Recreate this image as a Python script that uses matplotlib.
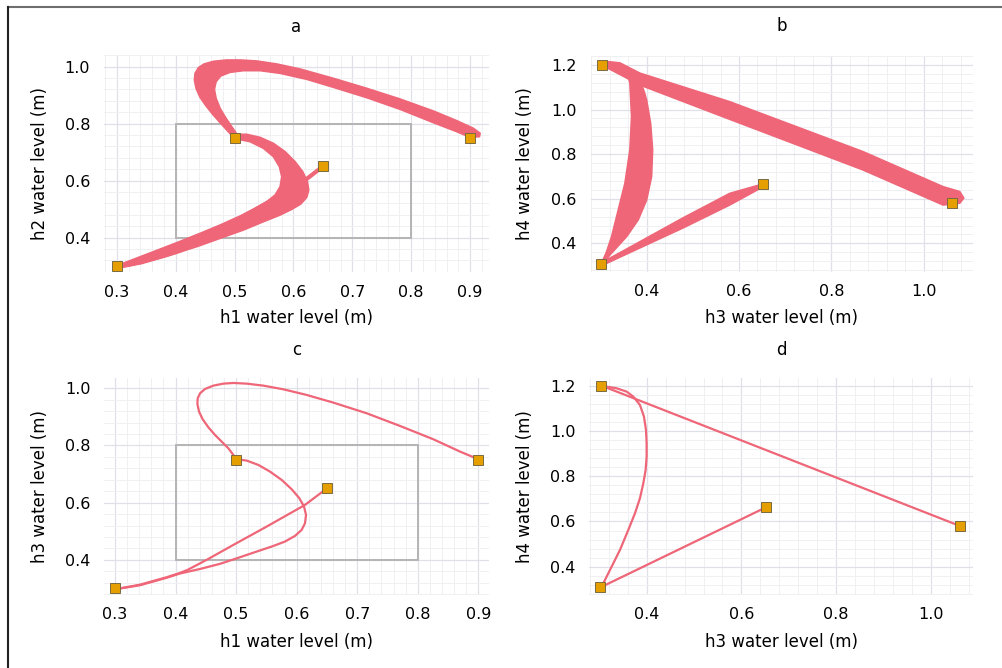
import numpy as np
import matplotlib
matplotlib.use('Agg')
import matplotlib.pyplot as plt
from matplotlib.ticker import MultipleLocator, FormatStrFormatter
from matplotlib.patches import Rectangle
from matplotlib.lines import Line2D

# ---- setpoints (orange squares) ----
sp_h1 = [0.3, 0.5, 0.65, 0.9]
sp_h2 = [0.3, 0.75, 0.65, 0.75]
sp_h3 = [0.304, 0.302, 0.652, 1.061]
sp_h4 = [1.2, 0.308, 0.664, 0.58]

# ---- nominal trajectory, h1 vs h3 (panel c) ----
c_top_h1 = [0.5, 0.4954, 0.4871, 0.4761, 0.4651, 0.4541, 0.4448, 0.4387, 0.4360, 0.4365, 0.4404, 0.4486,
            0.4624, 0.4789, 0.4954, 0.5174, 0.5449, 0.5780, 0.6165, 0.6605, 0.7156, 0.7706, 0.8256, 0.8697, 0.9]
c_top_h3 = [0.752, 0.7669, 0.7902, 0.8135, 0.8368, 0.8636, 0.8916, 0.9184, 0.9452, 0.9650, 0.9825, 0.9977,
            1.0093, 1.0163, 1.0186, 1.0163, 1.0093, 0.9965, 0.9767, 0.9499, 0.9126, 0.8683, 0.8217, 0.7786, 0.7517]
c_mid_h1 = [0.5, 0.5174, 0.5367, 0.5559, 0.5752, 0.5917, 0.6044, 0.6121, 0.6154, 0.6137, 0.6082, 0.5972,
            0.5807, 0.5587, 0.5339, 0.5064, 0.4734, 0.4404, 0.407, 0.385, 0.341, 0.3]
c_mid_h3 = [0.752, 0.7471, 0.7319, 0.7086, 0.6795, 0.6469, 0.6154, 0.5862, 0.5571, 0.5280, 0.5047, 0.4837,
            0.4639, 0.4464, 0.4289, 0.4091, 0.3860, 0.3680, 0.352, 0.337, 0.311, 0.297]
c_low_h1 = [0.6495, 0.6137, 0.5504, 0.4954, 0.4514, 0.42, 0.407, 0.385, 0.341, 0.3]
c_low_h3 = [0.6492, 0.5921, 0.5163, 0.4522, 0.4, 0.365, 0.354, 0.339, 0.313, 0.297]

# ---- nominal trajectory, h3 vs h4 (panel d) ----
d_bow_h3 = [0.3065, 0.3367, 0.3578, 0.3719, 0.3859, 0.3944, 0.3986, 0.4, 0.4, 0.3979, 0.3930, 0.3859,
            0.3754, 0.3613, 0.3437, 0.3262, 0.3086, 0.3015]
d_bow_h4 = [1.2, 1.1897, 1.175, 1.1528, 1.1159, 1.0642, 1.0052, 0.9461, 0.8871, 0.8281, 0.7690, 0.7026,
            0.6362, 0.5624, 0.4738, 0.4000, 0.3262, 0.307]
d_diag_h3 = [0.3065, 1.061]
d_diag_h4 = [1.2, 0.58]
d_low_h3 = [0.3015, 0.652]
d_low_h4 = [0.307, 0.663]

# ---- ensemble envelopes, panel a ----
a_up_outer_h1 = [0.4981, 0.4868, 0.4755, 0.4630, 0.4517, 0.4415, 0.4347, 0.4319, 0.4330, 0.4387, 0.4483,
                 0.4641, 0.4868, 0.5094, 0.5377, 0.5717, 0.6113, 0.6679, 0.7245, 0.7811, 0.8377, 0.8773,
                 0.9057, 0.9170, 0.9158]
a_up_outer_h2 = [0.7520, 0.7778, 0.8035, 0.8327, 0.8620, 0.8924, 0.9240, 0.9532, 0.9766, 0.9965, 1.0094,
                 1.0187, 1.0234, 1.0234, 1.0199, 1.0094, 0.9918, 0.9591, 0.9240, 0.8865, 0.8444, 0.8105,
                 0.7836, 0.7661, 0.7544]
a_up_inner_h1 = [0.5049, 0.4953, 0.4857, 0.4755, 0.4687, 0.4658, 0.4687, 0.4766, 0.4924, 0.5151, 0.5434,
                 0.5774, 0.6226, 0.6679, 0.7245, 0.7811, 0.8377, 0.8773, 0.9000]
a_up_inner_h2 = [0.7602, 0.7895, 0.8187, 0.8538, 0.8889, 0.9205, 0.9474, 0.9673, 0.9801, 0.9860, 0.9860,
                 0.9766, 0.9556, 0.9275, 0.8912, 0.8503, 0.8035, 0.7719, 0.7520]
a_lo_outer_h1 = [0.4998, 0.5208, 0.5434, 0.5660, 0.5858, 0.6028, 0.6158, 0.6238, 0.6260, 0.6226, 0.6124,
                 0.5972, 0.5774, 0.5491, 0.5151, 0.4755, 0.4358, 0.3962, 0.3566, 0.3226, 0.3028]
a_lo_outer_h2 = [0.7626, 0.7626, 0.7520, 0.7310, 0.7018, 0.6667, 0.6316, 0.5965, 0.5673, 0.5415, 0.5181,
                 0.4994, 0.4795, 0.4561, 0.4269, 0.3977, 0.3684, 0.3427, 0.3193, 0.3018, 0.2947]
a_lo_inner_h1 = [0.5066, 0.5264, 0.5491, 0.5660, 0.5762, 0.5802, 0.5774, 0.5689, 0.5547, 0.5349, 0.5094,
                 0.4755, 0.4415, 0.4019, 0.3623, 0.3283, 0.3028]
a_lo_inner_h2 = [0.7450, 0.7368, 0.7135, 0.6842, 0.6491, 0.6140, 0.5789, 0.5497, 0.5263, 0.5029, 0.4760,
                 0.4444, 0.4152, 0.3825, 0.3509, 0.3240, 0.3041]

# ---- ensemble envelopes, panel b ----
b_loop_outer_h3 = [0.3148, 0.3567, 0.3855, 0.400, 0.4087, 0.413, 0.4108, 0.400, 0.3818, 0.3567, 0.3206, 0.3061]
b_loop_outer_h4 = [1.215, 1.170, 1.118, 1.043, 0.938, 0.819, 0.699, 0.594, 0.505, 0.430, 0.348, 0.310]
b_loop_inner_h3 = [0.3148, 0.3567, 0.3639, 0.3675, 0.3639, 0.3531, 0.3386, 0.3243, 0.3098, 0.3026]
b_loop_inner_h4 = [1.187, 1.178, 1.118, 0.968, 0.819, 0.669, 0.549, 0.430, 0.340, 0.310]
b_diag_upper_h3 = [0.3148, 0.3422, 0.3855, 0.580, 0.8686, 1.0417, 1.0778, 1.0865]
b_diag_upper_h4 = [1.215, 1.209, 1.163, 1.035, 0.811, 0.654, 0.632, 0.603]
b_diag_lower_h3 = [0.3148, 0.3855, 0.580, 0.8686, 1.0417, 1.0778]
b_diag_lower_h4 = [1.187, 1.110, 0.956, 0.729, 0.572, 0.580]
b_low_upper_h3 = [0.3056, 0.4785, 0.580, 0.6516]
b_low_upper_h4 = [0.316, 0.5136, 0.624, 0.666]
b_low_lower_h3 = [0.3056, 0.4785, 0.580, 0.6516]
b_low_lower_h4 = [0.303, 0.4687, 0.572, 0.653]

# operating region box (h1/h2 plane)
box_lo = 0.4
box_hi = 0.8

LINE = '#EE6677'
MARK = '#E69F00'


def band(ax, x1, y1, x2, y2):
    xs = list(x1) + list(x2)[::-1]
    ys = list(y1) + list(y2)[::-1]
    ax.fill(xs, ys, color=LINE, lw=1.2, joinstyle='round', zorder=3)


def style(ax, title, xlabel, ylabel, xlim, ylim, xmaj, ymaj, xmin, ymin, tpos, xlpos, ylpos):
    ax.set_xlim(xlim)
    ax.set_ylim(ylim)
    ax.xaxis.set_major_locator(MultipleLocator(xmaj))
    ax.yaxis.set_major_locator(MultipleLocator(ymaj))
    ax.xaxis.set_minor_locator(MultipleLocator(xmin))
    ax.yaxis.set_minor_locator(MultipleLocator(ymin))
    ax.xaxis.set_major_formatter(FormatStrFormatter('%.1f'))
    ax.yaxis.set_major_formatter(FormatStrFormatter('%.1f'))
    ax.grid(which='major', color='#e0e0e8', lw=0.9, zorder=0)
    ax.grid(which='minor', color='#f0f0f3', lw=0.7, zorder=0)
    ax.set_axisbelow(True)
    for s in ax.spines.values():
        s.set_visible(False)
    ax.tick_params(which='both', length=0, labelsize=11.5)
    ax.tick_params(axis='x', pad=9)
    ax.tick_params(axis='y', pad=10)
    ax.set_title(title, y=tpos, va='center', fontsize=12, pad=0)
    ax.set_xlabel(xlabel, fontsize=12, va='center')
    ax.set_ylabel(ylabel, fontsize=12, va='center')
    ax.xaxis.set_label_coords(0.5, xlpos)
    ax.yaxis.set_label_coords(ylpos, 0.5)


fig = plt.figure(figsize=(10.02, 6.68), dpi=100)
ax_a = fig.add_axes([0.1038, 0.5928, 0.3842, 0.3249])
ax_b = fig.add_axes([0.5895, 0.5933, 0.3818, 0.3229])
ax_c = fig.add_axes([0.1041, 0.1093, 0.3842, 0.3244])
ax_d = fig.add_axes([0.5881, 0.1093, 0.3832, 0.3244])

# a / c: h1 against h2 / h3
for ax in (ax_a, ax_c):
    ax.add_patch(Rectangle((box_lo, box_lo), box_hi - box_lo, box_hi - box_lo,
                           fill=False, ec='#b4b4b4', lw=1.4, zorder=2))
for xs, ys in [(c_top_h1, c_top_h3), (c_mid_h1, c_mid_h3), (c_low_h1, c_low_h3)]:
    ax_c.plot(xs, ys, color=LINE, lw=1.6, solid_capstyle='round', solid_joinstyle='round', zorder=3)
# ensemble: only the leg from the 0.65 setpoint sits outside the bands
ax_a.plot(c_low_h1, c_low_h3, color=LINE, lw=3, solid_capstyle='round', solid_joinstyle='round', zorder=3)
band(ax_a, a_up_outer_h1, a_up_outer_h2, a_up_inner_h1, a_up_inner_h2)
band(ax_a, a_lo_outer_h1, a_lo_outer_h2, a_lo_inner_h1, a_lo_inner_h2)

# b / d: h3 against h4
for xs, ys in [(d_bow_h3, d_bow_h4), (d_diag_h3, d_diag_h4), (d_low_h3, d_low_h4)]:
    ax_b.plot(xs, ys, color=LINE, lw=3, solid_capstyle='round', solid_joinstyle='round', zorder=3)
    ax_d.plot(xs, ys, color=LINE, lw=1.6, solid_capstyle='round', solid_joinstyle='round', zorder=3)
band(ax_b, b_loop_outer_h3, b_loop_outer_h4, b_loop_inner_h3, b_loop_inner_h4)
band(ax_b, b_diag_upper_h3, b_diag_upper_h4, b_diag_lower_h3, b_diag_lower_h4)
band(ax_b, b_low_upper_h3, b_low_upper_h4, b_low_lower_h3, b_low_lower_h4)

for ax in (ax_a, ax_c):
    ax.plot(sp_h1, sp_h2, ls='none', marker='s', ms=7, mfc=MARK, mec='#7a6a40', mew=0.7, zorder=5)
for ax in (ax_b, ax_d):
    ax.plot(sp_h3, sp_h4, ls='none', marker='s', ms=7, mfc=MARK, mec='#7a6a40', mew=0.7, zorder=5)

style(ax_a, 'a', 'h1 water level (m)', 'h2 water level (m)', (0.2784, 0.932), (0.2796, 1.041),
      0.1, 0.2, 0.02, 0.04, 1.130, -0.212, -0.166)
style(ax_b, 'b', 'h3 water level (m)', 'h4 water level (m)', (0.279, 1.107), (0.273, 1.240),
      0.2, 0.2, 0.04, 0.04, 1.139, -0.216, -0.172)
style(ax_c, 'c', 'h1 water level (m)', 'h3 water level (m)', (0.2823, 0.918), (0.277, 1.035),
      0.1, 0.2, 0.02, 0.04, 1.131, -0.215, -0.167)
style(ax_d, 'd', 'h3 water level (m)', 'h4 water level (m)', (0.279, 1.089), (0.2745, 1.234),
      0.2, 0.2, 0.04, 0.04, 1.131, -0.215, -0.167)

# outer frame (top and left edges only)
fig.add_artist(Line2D([8 / 1002, 1], [1 - 7 / 668, 1 - 7 / 668], color='#6e6e6e', lw=1.5))
fig.add_artist(Line2D([8 / 1002, 8 / 1002], [0, 1 - 7 / 668], color='#222222', lw=1.5))

fig.savefig('out.png', dpi=100)
